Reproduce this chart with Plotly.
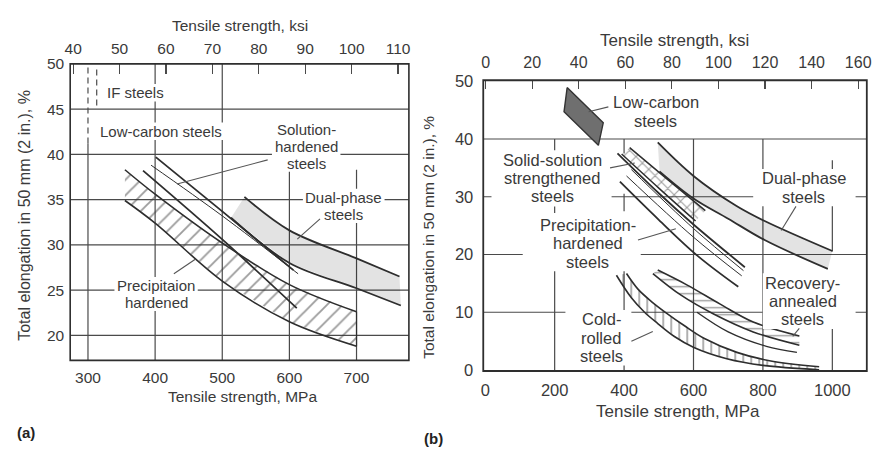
import plotly.graph_objects as go

W, H = 880, 456
FONT = "Liberation Sans, Arial, Helvetica, sans-serif"
TXT = "#3a3a3a"
LN = "#2e2e2e"
GRID = "#4a4a4a"

# ---------------- data: panel (a) ----------------
mpa_ticks_a = [300, 400, 500, 600, 700]
ksi_ticks_a = [40, 50, 60, 70, 80, 90, 100, 110]
el_ticks_a = [20, 25, 30, 35, 40, 45, 50]

ph_a_upper_x = [355, 400, 500, 600, 700]
ph_a_upper_y = [38.3, 35.6, 30.2, 25.6, 22.6]
ph_a_lower_x = [355, 400, 500, 600, 700]
ph_a_lower_y = [34.9, 32.4, 26.0, 21.5, 18.8]

sh1_x = [382, 500, 611]
sh1_y = [38.2, 30.6, 23.0]
sh2_x = [394, 500, 613]
sh2_y = [38.8, 33.2, 26.8]
sh3_x = [401, 500, 606]
sh3_y = [39.7, 33.7, 27.2]

dp_a_upper_x = [533, 600, 700, 764]
dp_a_upper_y = [35.3, 31.6, 28.5, 26.5]
dp_a_lower_x = [513, 600, 700, 766]
dp_a_lower_y = [33.0, 28.0, 25.2, 23.3]

# ---------------- data: panel (b) ----------------
mpa_ticks_b = [0, 200, 400, 600, 800, 1000]
ksi_ticks_b = [0, 20, 40, 60, 80, 100, 120, 140, 160]
el_ticks_b = [0, 10, 20, 30, 40, 50]

lc_x = [236, 340, 326, 227]
lc_y = [48.9, 42.8, 38.9, 44.7]

ss_upper_x = [416, 525, 634]
ss_upper_y = [38.5, 33.0, 27.6]
ss_lower_x = [393, 500, 606]
ss_lower_y = [37.4, 31.5, 25.8]

p1_x = [381, 500, 600, 748]
p1_y = [37.5, 30.6, 25.2, 17.8]
p2_x = [421, 600, 744]
p2_y = [34.7, 24.5, 17.2]
p3_x = [407, 600, 739]
p3_y = [33.6, 23.0, 16.3]
p4_x = [388, 500, 611, 729]
p4_y = [32.6, 26.0, 19.8, 14.4]

dp_b_upper_x = [497, 600, 724, 805, 1000]
dp_b_upper_y = [39.4, 33.6, 28.4, 25.8, 20.6]
dp_b_lower_x = [502, 600, 700, 805, 987]
dp_b_lower_y = [34.4, 29.7, 26.2, 22.5, 17.5]

ra_upper_x = [497, 582, 677, 772, 905]
ra_upper_y = [17.3, 14.7, 11.4, 8.3, 5.9]
ra_lower_x = [483, 563, 658, 772, 905]
ra_lower_y = [16.7, 13.0, 9.7, 6.6, 4.3]
ra_low2_x = [610, 700, 810, 898]
ra_low2_y = [10.0, 6.6, 4.1, 3.05]

cr_upper_x = [407, 440, 478, 521, 573, 630, 725, 819, 962]
cr_upper_y = [16.7, 14.0, 11.9, 9.9, 7.7, 5.5, 3.05, 1.6, 0.55]
cr_lower_x = [378, 421, 459, 497, 545, 601, 696, 800, 962]
cr_lower_y = [16.4, 12.5, 10.0, 8.05, 5.8, 3.9, 1.95, 0.8, 0.05]

# Arial advance widths (per em) for estimating label box sizes
AW = {' ': .278, '%': .889, '(': .333, ')': .333, ',': .278, '-': .333, '.': .278,
      'A': .667, 'C': .722, 'D': .722, 'F': .611, 'I': .278, 'L': .556, 'M': .833, 'P': .667,
      'R': .722, 'S': .667, 'T': .611, 'a': .556, 'b': .556, 'c': .5, 'd': .556, 'e': .556,
      'f': .278, 'g': .556, 'h': .556, 'i': .222, 'k': .5, 'l': .222, 'm': .833, 'n': .556,
      'o': .556, 'p': .556, 'r': .333, 's': .5, 't': .278, 'u': .556, 'v': .5, 'w': .722,
      'y': .5}


def tw(s, size):
    return sum(AW.get(c, .556) for c in s) * size


def P(x, y):
    return x / W, 1 - y / H


fig = go.Figure()
A = dict(xaxis="x", yaxis="y")
B = dict(xaxis="x3", yaxis="y2")


def line(xs, ys, width, ax, color=LN, shape="spline"):
    fig.add_trace(go.Scatter(x=xs, y=ys, mode="lines", line=dict(color=color, width=width, shape=shape),
                             hoverinfo="skip", **ax))


def band(ux, uy, lx, ly, ax, pattern=None, fillcolor="rgba(0,0,0,0)"):
    xs = list(ux) + list(lx)[::-1] + [ux[0]]
    ys = list(uy) + list(ly)[::-1] + [uy[0]]
    kw = {}
    if pattern:
        kw["fillpattern"] = pattern
    fig.add_trace(go.Scatter(x=xs, y=ys, mode="lines", fill="toself", fillcolor=fillcolor,
                             line=dict(width=0, color="rgba(0,0,0,0)"), hoverinfo="skip", **kw, **ax))


# ---- panel (a) traces ----
band(dp_a_upper_x, dp_a_upper_y, dp_a_lower_x, dp_a_lower_y, A, fillcolor="rgba(0,0,0,0.11)")
band(ph_a_upper_x, ph_a_upper_y, ph_a_lower_x, ph_a_lower_y, A,
     pattern=dict(shape="/", size=11, solidity=0.17, fgcolor="#3a3a3a", bgcolor="rgba(0,0,0,0)"))
line(ph_a_upper_x, ph_a_upper_y, 1.6, A)
line(ph_a_lower_x, ph_a_lower_y, 1.6, A)
fig.add_trace(go.Scatter(x=[ph_a_upper_x[-1], ph_a_lower_x[-1]], y=[ph_a_upper_y[-1], ph_a_lower_y[-1]],
                         mode="lines", line=dict(color=LN, width=1.2), hoverinfo="skip", **A))
line(sh1_x, sh1_y, 1.8, A)
line(sh2_x, sh2_y, 1.0, A)
line(sh3_x, sh3_y, 1.8, A)
line(dp_a_upper_x, dp_a_upper_y, 1.8, A)
line(dp_a_lower_x, dp_a_lower_y, 1.8, A)
fig.add_trace(go.Scatter(x=[], y=[], xaxis="x2", yaxis="y", hoverinfo="skip"))

# ---- panel (b) traces ----
fig.add_trace(go.Scatter(x=lc_x + [lc_x[0]], y=lc_y + [lc_y[0]], mode="lines", fill="toself",
                         fillcolor="#6f6f6f", line=dict(color="#333333", width=1.4), hoverinfo="skip", **B))
band(dp_b_upper_x, dp_b_upper_y, dp_b_lower_x, dp_b_lower_y, B, fillcolor="rgba(0,0,0,0.11)")
band(ss_upper_x, ss_upper_y, ss_lower_x, ss_lower_y, B,
     pattern=dict(shape="x", size=9, solidity=0.22, fgcolor="#3a3a3a", bgcolor="rgba(0,0,0,0)"))
line(ss_upper_x, ss_upper_y, 1.5, B)
line(ss_lower_x, ss_lower_y, 1.5, B)
line(p1_x, p1_y, 1.8, B)
line(p2_x, p2_y, 1.0, B)
line(p3_x, p3_y, 1.0, B)
line(p4_x, p4_y, 1.8, B)
line(dp_b_upper_x, dp_b_upper_y, 1.8, B)
line(dp_b_lower_x, dp_b_lower_y, 1.8, B)
band(ra_upper_x, ra_upper_y, ra_lower_x, ra_lower_y, B,
     pattern=dict(shape="-", size=7, solidity=0.2, fgcolor="#3a3a3a", bgcolor="rgba(0,0,0,0)"))
line(ra_upper_x, ra_upper_y, 1.6, B)
line(ra_lower_x, ra_lower_y, 1.6, B)
line(ra_low2_x, ra_low2_y, 1.4, B)
band(cr_upper_x, cr_upper_y, cr_lower_x, cr_lower_y, B,
     pattern=dict(shape="|", size=8, solidity=0.2, fgcolor="#3a3a3a", bgcolor="rgba(0,0,0,0)"))
line(cr_upper_x, cr_upper_y, 1.6, B)
line(cr_lower_x, cr_lower_y, 1.6, B)
fig.add_trace(go.Scatter(x=[], y=[], xaxis="x4", yaxis="y2", hoverinfo="skip"))

shapes = []


def seg(xr, yr, x0, y0, x1, y1, dash="solid", width=1.2, color=GRID, layer="below"):
    shapes.append(dict(type="line", xref=xr, yref=yr, x0=x0, y0=y0, x1=x1, y1=y1, layer=layer,
                       line=dict(color=color, width=width, dash=dash)))


# gridlines (a)
XA0, XA1, YA0, YA1 = 273.5, 778, 17.23, 50
for yv in [20, 25, 30, 35, 40, 45]:
    seg("x", "y", XA0, yv, XA1, yv)
seg("x", "y", 300, YA0, 300, 41.2)
seg("x", "y", 300, 41.2, 300, 50, dash="6px,4px")
seg("x", "y", 313, 45.4, 313, 49.5, dash="6px,4px")
seg("x", "y", 400, YA0, 400, 50)
seg("x", "y", 500, YA0, 500, 50)
seg("x", "y", 600, YA0, 600, 38.5)
seg("x", "y", 700, YA0, 700, 38.3)

# gridlines (b)
XB0, XB1 = -5.7, 1099.3
seg("x3", "y2", XB0, 40, XB1, 40)
for a, b in [(XB0, 18), (364, 772), (1067, XB1)]:
    seg("x3", "y2", a, 30, b, 30)
for a, b in [(XB0, 108), (448, XB1)]:
    seg("x3", "y2", a, 20, b, 20)
for a, b in [(XB0, 231), (421, 800), (1067, XB1)]:
    seg("x3", "y2", a, 10, b, 10)
for a, b in [(36.3, 40), (27.2, 28.3), (0, 17.5)]:
    seg("x3", "y2", 200, a, 200, b)
for a, b in [(0, 17.5), (27.5, 30.5), (37.5, 40)]:
    seg("x3", "y2", 400, a, 400, b)
seg("x3", "y2", 600, 0, 600, 40)
seg("x3", "y2", 800, 0, 800, 40)
for a, b in [(0, 7.5), (20.5, 36.3)]:
    seg("x3", "y2", 1000, a, 1000, b)

annotations = []


def text(t, px, py, size, bold=False, angle=0, color=TXT):
    x, y = P(px, py)
    if bold:
        t = f"<b>{t}</b>"
    annotations.append(dict(text=t, x=x, y=y, xref="paper", yref="paper", showarrow=False,
                            xanchor="center", yanchor="middle", textangle=angle,
                            font=dict(family=FONT, size=size, color=color)))


def group(lines, cx, cy, size, gap):
    """A multi-line label: each line is its own text; one white box behind the block."""
    n = len(lines)
    y0 = cy - gap * (n - 1) / 2
    wmax = max(tw(s, size) for s in lines)
    top = y0 - size * 0.6
    bot = y0 + gap * (n - 1) + size * 0.6
    x0p, y0p = P(cx - wmax / 2 - 3, top)
    x1p, y1p = P(cx + wmax / 2 + 3, bot)
    shapes.append(dict(type="rect", xref="paper", yref="paper", x0=x0p, x1=x1p, y0=y1p, y1=y0p,
                       layer="above", fillcolor="white", line=dict(width=0)))
    for i, s in enumerate(lines):
        text(s, cx, y0 + i * gap, size)


SA, GA = 15, 17.5      # panel (a) label font size / line gap
SB, GB = 16.5, 19      # panel (b) label font size / line gap

# panel (a) labels
group(["IF steels"], 131, 87, SA, GA)
group(["Low-carbon steels"], 157, 127, SA, GA)
group(["Solution-", "hardened", "steels"], 304, 142.5, SA, GA)
group(["Dual-phase", "steels"], 342, 204.5, SA, GA)
group(["Precipitaion", "hardened"], 152, 296, SA, GA)

# panel (b) labels
group(["Low-carbon", "steels"], 658, 106.5, SB, GB)
group(["Solid-solution", "strengthened", "steels"], 553, 175.5, SB, GB)
group(["Precipitation-", "hardened", "steels"], 589, 243.5, SB, GB)
group(["Dual-phase", "steels"], 808, 185.5, SB, GB)
group(["Recovery-", "annealed", "steels"], 807, 303.5, SB, GB)
group(["Cold-", "rolled", "steels"], 603, 341.5, SB, GB)

# leader lines (pixel positions)
leaders = [((173.3, 181.7), (265, 156.7)), ((295, 239), (318, 218)), ((170, 275), (191.7, 260)),
           ((590, 106.7), (610, 101.7)), ((611.7, 165), (636.7, 160)), ((640, 240), (678.3, 228.3)),
           ((800, 205), (785, 230)), ((803.3, 331.7), (796.7, 340)), ((633.3, 345), (655, 335))]
for (ax0, ay0), (ax1, ay1) in leaders:
    x0, y0 = P(ax0, ay0)
    x1, y1 = P(ax1, ay1)
    shapes.append(dict(type="line", xref="paper", yref="paper", x0=x0, y0=y0, x1=x1, y1=y1,
                       layer="above", line=dict(color="#555555", width=1.1)))

# frames
for xr, yr, w in [("x domain", "y domain", 1.6), ("x3 domain", "y2 domain", 1.8)]:
    shapes.append(dict(type="rect", xref=xr, yref=yr, x0=0, x1=1, y0=0, y1=1, layer="above",
                       line=dict(color=LN, width=w)))

# axis titles
text("Tensile strength, ksi", 237, 17, 15.5)
text("Tensile strength, MPa", 239, 403, 15.5)
text("Total elongation in 50 mm (2 in.), %", 18, 214, 16, angle=-90)
text("Tensile strength, ksi", 677, 33, 17)
text("Tensile strength, MPa", 680, 418, 17)
text("Total elongation in 50 mm (2 in.), %", 428, 237, 15.5, angle=-90)
text("(a)", 20, 440, 15, bold=True, color="#222222")
text("(b)", 433, 446, 15, bold=True, color="#222222")

tf_a = dict(family=FONT, size=15.5, color=TXT)
tf_b = dict(family=FONT, size=16.5, color=TXT)
tf_bt = dict(family=FONT, size=16, color=TXT)
common = dict(showgrid=False, zeroline=False, showline=False, fixedrange=True)

fig.update_layout(
    width=W, height=H, margin=dict(l=0, r=0, t=0, b=0),
    paper_bgcolor="white", plot_bgcolor="white", showlegend=False, hovermode=False,
    font=dict(family=FONT, color=TXT),
    xaxis=dict(domain=[65 / W, 408 / W], range=[XA0, XA1], anchor="y", tickvals=mpa_ticks_a,
               ticks="", tickfont=tf_a, ticklabelstandoff=6, **common),
    xaxis2=dict(overlaying="x", side="top", anchor="y", range=[39.36, 112.34], tickvals=ksi_ticks_a,
                ticks="inside", ticklen=10, tickwidth=1.2, tickcolor=GRID, tickfont=tf_a,
                ticklabelstandoff=6, **common),
    yaxis=dict(domain=[1 - 365 / H, 1 - 57 / H], range=[YA0, YA1], anchor="x", tickvals=el_ticks_a,
               ticks="", tickfont=tf_a, ticklabelstandoff=5, **common),
    xaxis3=dict(domain=[483.3 / W, 871.7 / W], range=[XB0, XB1], anchor="y2", tickvals=mpa_ticks_b,
                ticks="", tickfont=tf_b, ticklabelstandoff=8, **common),
    xaxis4=dict(overlaying="x3", side="top", anchor="y2", range=[-1.0, 163.7], tickvals=ksi_ticks_b,
                ticks="inside", ticklen=9, tickwidth=1.2, tickcolor=GRID, tickfont=tf_bt,
                ticklabelstandoff=8, **common),
    yaxis2=dict(domain=[1 - 376 / H, 1 - 74 / H], range=[-0.17, 50.17], anchor="x3", tickvals=el_ticks_b,
                ticks="", tickfont=tf_b, ticklabelstandoff=9, **common),
    shapes=shapes, annotations=annotations,
)

fig.write_html("out.html", config={"displayModeBar": False, "staticPlot": True},
               post_script="document.body.style.margin='0';document.body.style.overflow='hidden';"
                           "document.documentElement.style.overflow='hidden';")
